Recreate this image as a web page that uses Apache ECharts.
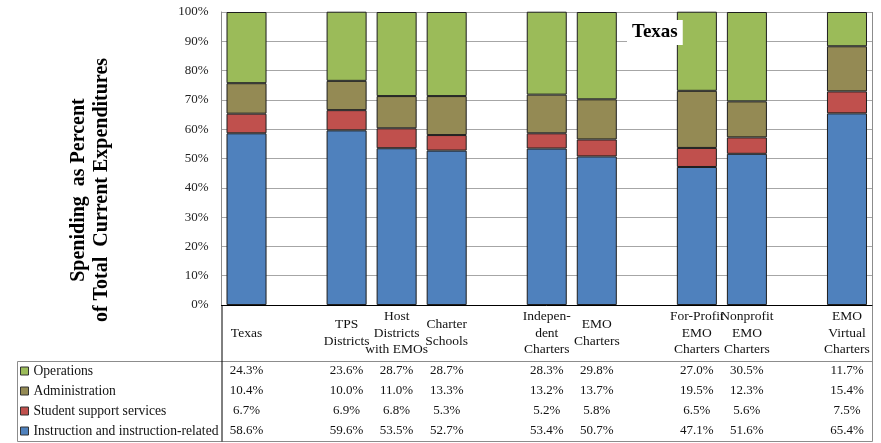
<!DOCTYPE html>
<html>
<head>
<meta charset="utf-8">
<script src="https://cdn.jsdelivr.net/npm/echarts@6/dist/echarts.min.js"></script>
<style>html,body{margin:0;padding:0;background:#fff}#c{width:881px;height:443px}</style>
</head>
<body>
<div id="c"></div>
<script>
// ---- data ----
const groups = [
  ['Texas'],
  ['TPS\nDistricts', 'Host\nDistricts\nwith EMOs', 'Charter\nSchools'],
  ['Indepen-\ndent\nCharters', 'EMO\nCharters'],
  ['For-Profit\nEMO\nCharters', 'Nonprofit\nEMO\nCharters'],
  ['EMO\nVirtual\nCharters']
];
const operations     = [24.3, 23.6, 28.7, 28.7, 28.3, 29.8, 27.0, 30.5, 11.7];
const administration = [10.4, 10.0, 11.0, 13.3, 13.2, 13.7, 19.5, 12.3, 15.4];
const studentSupport = [6.7, 6.9, 6.8, 5.3, 5.2, 5.8, 6.5, 5.6, 7.5];
const instruction    = [58.6, 59.6, 53.5, 52.7, 53.4, 50.7, 47.1, 51.6, 65.4];
const seriesNames = ['Operations', 'Administration', 'Student support services', 'Instruction and instruction-related'];
const seriesColors = ['#9BBB59', '#948A54', '#C0504D', '#4F81BD'];
const chartTitle = 'Texas';
const yAxisTitle = 'Speniding  as Percent\nof Total  Current Expenditures';

// ---- build slots (gap between groups) ----
const slotLabels = [], slotIndex = [];
let k = 0;
groups.forEach((g, gi) => {
  if (gi > 0) { slotLabels.push(''); slotIndex.push(-1); }
  g.forEach(name => { slotLabels.push(name); slotIndex.push(k++); });
});
const toSlots = arr => slotIndex.map(i => i < 0 ? null : arr[i]);

const rows = [operations, administration, studentSupport, instruction];

// ---- layout ----
const W = 881, H = 443;
const G = { left: 221.5, right: 9, top: 12, bottom: 138 };
const plotR = W - G.right, plotB = H - G.bottom;
const tableTop = 361.5, tableBot = 441.5, tableLeft = 17.5;
const FONT = '"Liberation Serif", "Times New Roman", serif';

const chart = echarts.init(document.getElementById('c'), null, { renderer: 'canvas' });

const xAxes = [{
  type: 'category', data: slotLabels, gridIndex: 0, position: 'bottom',
  axisLine: { show: true, lineStyle: { color: '#000', width: 1 } },
  axisTick: { show: false },
  axisLabel: { interval: 0, margin: 28, verticalAlign: 'middle', fontFamily: FONT, fontSize: 13.5, lineHeight: 16.5, color: '#111', align: 'center' }
}];
rows.forEach((arr, r) => {
  const vals = toSlots(arr);
  xAxes.push({
    type: 'category', data: slotLabels, gridIndex: 0, position: 'bottom',
    axisLine: { show: false }, axisTick: { show: false }, splitLine: { show: false },
    axisLabel: {
      interval: 0, margin: 65.5 + 20 * r, verticalAlign: 'middle', fontFamily: FONT, fontSize: 13, color: '#111',
      formatter: (v, i) => vals[i] == null ? '' : vals[i].toFixed(1) + '%'
    }
  });
});

const barData = [instruction, studentSupport, administration, operations];
const barNames = [seriesNames[3], seriesNames[2], seriesNames[1], seriesNames[0]];
const barColors = [seriesColors[3], seriesColors[2], seriesColors[1], seriesColors[0]];

const series = barData.map((arr, i) => ({
  name: barNames[i], type: 'bar', stack: 'total', xAxisIndex: 0, yAxisIndex: 0,
  barWidth: '80%', data: toSlots(arr),
  itemStyle: { color: barColors[i], borderColor: '#1e1e1e', borderWidth: 1 },
  emphasis: { disabled: true }, animation: false
}));

const lineStyleGray = { stroke: '#8c8c8c', lineWidth: 1 };
const graphic = [
  { type: 'text', x: 90, y: 190, rotation: Math.PI / 2,
    style: { text: yAxisTitle, font: 'bold 20px ' + FONT, fill: '#000', align: 'center', verticalAlign: 'middle', lineHeight: 23 } },
  // table frame
  { type: 'line', shape: { x1: tableLeft, y1: tableTop, x2: plotR + 0.5, y2: tableTop }, style: lineStyleGray },
  { type: 'line', shape: { x1: tableLeft, y1: tableBot, x2: plotR + 0.5, y2: tableBot }, style: lineStyleGray },
  { type: 'line', shape: { x1: tableLeft, y1: tableTop, x2: tableLeft, y2: tableBot }, style: lineStyleGray },
  { type: 'line', shape: { x1: plotR + 0.5, y1: G.top, x2: plotR + 0.5, y2: tableBot }, style: lineStyleGray },
  { type: 'line', shape: { x1: G.left + 0.5, y1: plotB, x2: G.left + 0.5, y2: tableBot }, style: { stroke: '#000', lineWidth: 1 } },
  { type: 'line', shape: { x1: G.left, y1: G.top + 0.5, x2: plotR, y2: G.top + 0.5 }, style: lineStyleGray }
];

chart.setOption({
  animation: false,
  backgroundColor: '#fff',
  title: {
    text: chartTitle, left: 627, top: 20, padding: [3, 5, 3, 5], backgroundColor: '#fff',
    textStyle: { fontFamily: FONT, fontWeight: 'bold', fontSize: 19, color: '#000' }, z: 10
  },
  legend: {
    type: 'plain', orient: 'vertical', left: 20, top: 361, padding: 0, height: 82,
    itemWidth: 8, itemHeight: 8, itemGap: 0,
    selectedMode: false, data: seriesNames, icon: 'rect',
    itemStyle: { borderColor: '#333', borderWidth: 1 },
    textStyle: { fontFamily: FONT, fontSize: 13.6, color: '#111', lineHeight: 20, height: 20 }
  },
  grid: { left: G.left, right: G.right, top: G.top, bottom: G.bottom, containLabel: false },
  xAxis: xAxes,
  yAxis: {
    type: 'value', min: 0, max: 100, interval: 10,
    axisLine: { show: true, lineStyle: { color: '#8c8c8c' } },
    axisTick: { show: false },
    splitLine: { show: true, lineStyle: { color: '#a6a6a6', width: 1 } },
    axisLabel: { formatter: '{value}%', margin: 13, fontFamily: FONT, fontSize: 13, color: '#222' }
  },
  series: series,
  graphic: graphic
});
</script>
</body>
</html>
